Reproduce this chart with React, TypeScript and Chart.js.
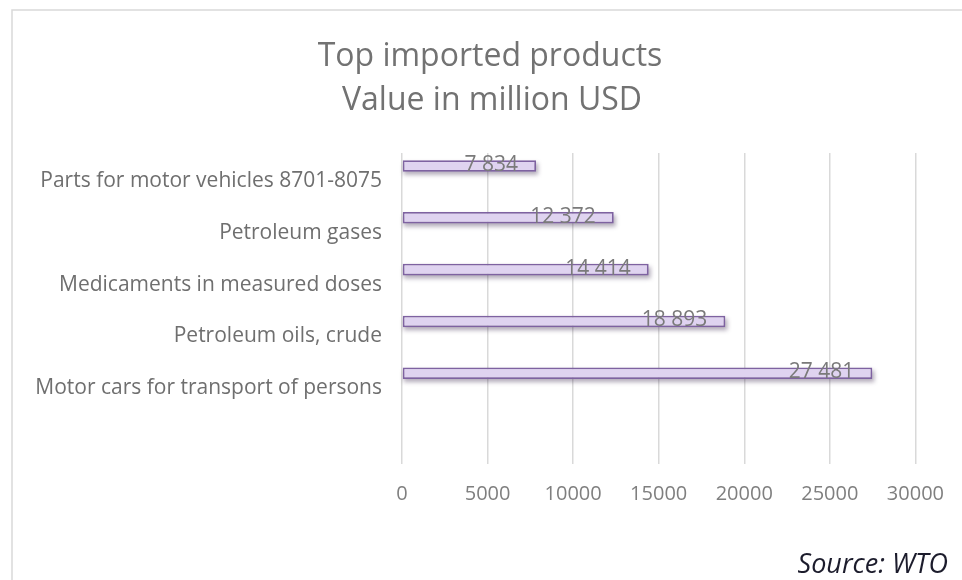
import React, { useEffect, useRef } from "react";
import { Chart, registerables } from "chart.js";

Chart.register(...registerables);

const categories = [
  "Parts for motor vehicles 8701-8075",
  "Petroleum gases",
  "Medicaments in measured doses",
  "Petroleum oils, crude",
  "Motor cars for transport of persons",
  "",
];
const importValues: (number | null)[] = [7834, 12372, 14414, 18893, 27481, null];
const titleLines = ["Top imported products", "Value in million USD"];
const sourceText = "Source: WTO";
const xMin = 0;
const xMax = 30000;
const xStep = 5000;

const FONT = "'Open Sans', 'Noto Sans', sans-serif";

const fmt = (v: number) => String(v).replace(/\B(?=(\d{3})+(?!\d))/g, " ");

const decorPlugin = {
  id: "decor",
  beforeDraw(chart: any) {
    const ctx = chart.ctx;
    ctx.save();
    ctx.fillStyle = "#ffffff";
    ctx.fillRect(0, 0, chart.width, chart.height);
    ctx.strokeStyle = "#d9d9d9";
    ctx.lineWidth = 1.5;
    ctx.strokeRect(12, 10, chart.width + 20, chart.height + 20);
    ctx.fillStyle = "#727272";
    ctx.font = `32px ${FONT}`;
    ctx.textAlign = "center";
    ctx.textBaseline = "middle";
    ctx.fillText(titleLines[0], 490, 57);
    ctx.fillText(titleLines[1], 492, 101);
    ctx.fillStyle = "#1c1c2c";
    ctx.font = `italic 27px ${FONT}`;
    ctx.textAlign = "right";
    ctx.fillText(sourceText, 948, 565);
    ctx.restore();
  },
  beforeDatasetsDraw(chart: any) {
    const ctx = chart.ctx;
    const meta = chart.getDatasetMeta(0);
    ctx.save();
    ctx.filter = "blur(2px)";
    ctx.fillStyle = "rgba(40,20,60,0.35)";
    meta.data.forEach((el: any, i: number) => {
      if (importValues[i] == null) return;
      const h = el.height;
      ctx.fillRect(el.base + 1, el.y - h / 2 + 3, el.x - el.base + 1, h);
    });
    ctx.restore();
  },
  afterDatasetsDraw(chart: any) {
    const ctx = chart.ctx;
    const meta = chart.getDatasetMeta(0);
    ctx.save();
    ctx.fillStyle = "#7a7a7a";
    ctx.font = `21px ${FONT}`;
    ctx.textAlign = "right";
    ctx.textBaseline = "middle";
    meta.data.forEach((el: any, i: number) => {
      const v = importValues[i];
      if (v == null) return;
      ctx.fillText(fmt(v), el.x - 18, el.y - 1);
    });
    ctx.restore();
  },
};

export default function App() {
  const ref = useRef<HTMLCanvasElement | null>(null);
  useEffect(() => {
    document.body.style.margin = "0";
    if (!ref.current) return;
    const chart = new Chart(ref.current, {
      type: "bar",
      data: {
        labels: categories,
        datasets: [
          {
            data: importValues,
            backgroundColor: "#dfd3f0",
            borderColor: "#7e62a1",
            borderWidth: 1.8,
            borderSkipped: false,
          },
          {
            data: categories.map(() => null),
            backgroundColor: "transparent",
          },
        ],
      },
      options: {
        indexAxis: "y",
        animation: false,
        responsive: false,
        maintainAspectRatio: false,
        categoryPercentage: 1,
        barPercentage: 0.45,
        layout: { padding: { left: 0, right: 46, top: 153, bottom: 0 } },
        plugins: {
          legend: { display: false },
          title: { display: false },
          tooltip: { enabled: false },
        },
        scales: {
          x: {
            min: xMin,
            max: xMax,
            ticks: {
              stepSize: xStep,
              color: "#7f7f7f",
              font: { family: FONT, size: 20 },
              padding: 18,
              callback: (v: any) => String(v),
            },
            grid: { color: "#d9d9d9", lineWidth: 1.5, drawTicks: false },
            border: { display: false },
            afterFit: (s: any) => {
              s.height = 580 - 464;
            },
          },
          y: {
            ticks: {
              color: "#6f6f6f",
              font: { family: FONT, size: 21 },
              padding: 12,
              labelOffset: 2,
            },
            grid: { display: false },
            border: { display: false },
            afterFit: (s: any) => {
              s.width = 402;
            },
          },
        },
      },
      plugins: [decorPlugin],
    } as any);
    return () => chart.destroy();
  }, []);
  return (
    <div style={{ position: "relative", width: 962, height: 580 }}>
      <canvas ref={ref} width={962} height={580} style={{ width: 962, height: 580, display: "block" }} />
    </div>
  );
}
